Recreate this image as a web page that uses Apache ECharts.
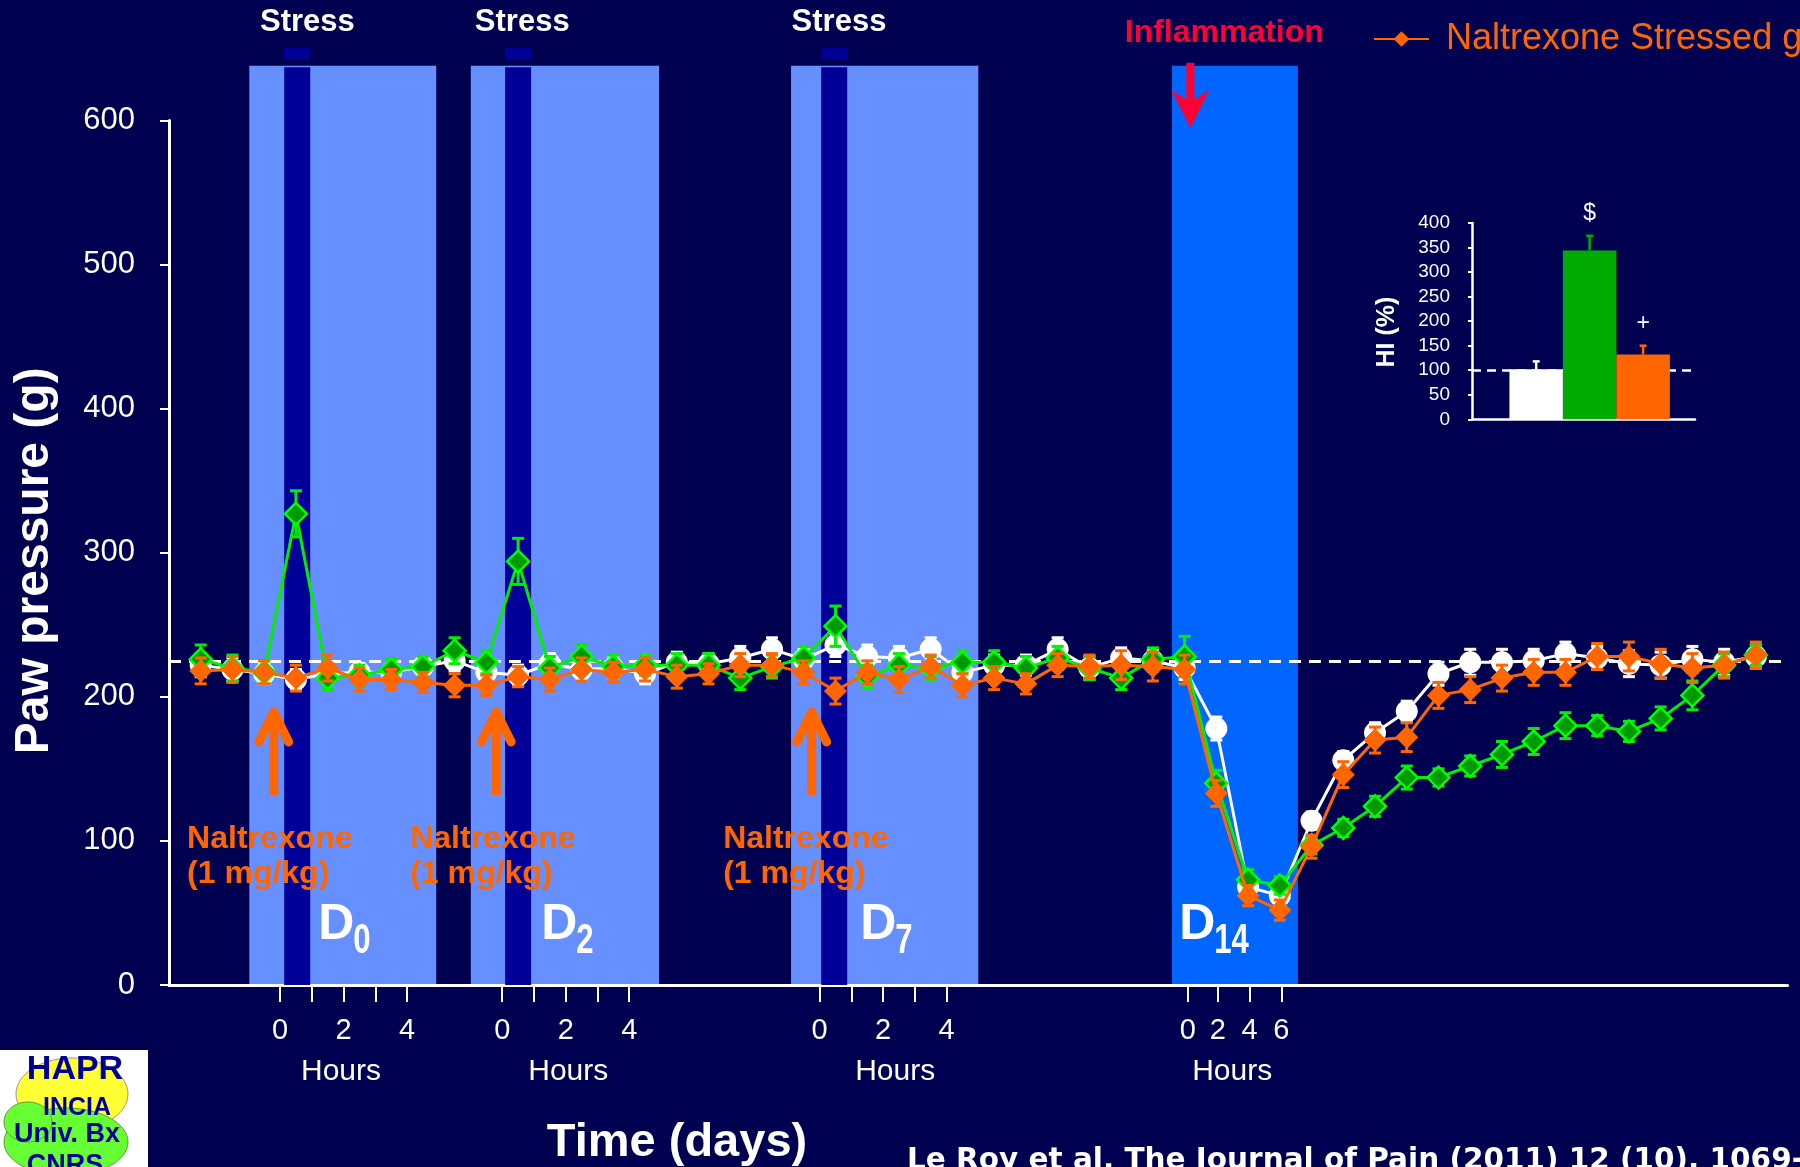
<!DOCTYPE html>
<html>
<head>
<meta charset="utf-8">
<title>Paw pressure over time</title>
<script src="https://cdn.jsdelivr.net/npm/echarts@6.0.0/dist/echarts.min.js"></script>
<style>
  html, body { margin: 0; padding: 0; background: #000050; }
  #chart { width: 1800px; height: 1167px; }
</style>
</head>
<body>
<div id="chart"></div>
<script>
const FONT = '"Liberation Sans", Arial, Helvetica, sans-serif';

// One slot per measurement along the timeline (D0, D2, D7 sessions, D14 and recovery)
const slots = [0,1,2,3,4,5,6,7,8,9,10,11,12,13,14,15,16,17,18,19,20,21,22,23,24,25,26,27,28,29,30,31,32,33,34,35,36,37,38,39,40,41,42,43,44,45,46,47,48,49];

// Paw pressure threshold (g): mean and SEM per slot
const controlMean = [222,219,216,212,216,217,217,221,225,217,215,223,219,220,216,224,223,227,233,226,236,228,227,233,217,222,222,233,220,227,225,220,178,68,62,114,156,175,190,216,224,224,225,230,227,223,222,226,224,228];
const controlSem  = [8,8,7,7,6,6,6,7,7,7,7,7,7,7,7,7,7,8,8,7,8,8,8,8,7,7,7,8,8,7,7,8,8,7,6,6,6,7,7,8,9,9,8,8,8,9,9,9,9,8];
const stressedMean = [226,220,217,327,213,215,219,221,232,224,294,220,228,221,222,222,222,213,221,227,249,214,222,220,224,224,220,227,220,213,226,228,140,73,69,97,109,124,144,144,152,160,169,180,180,176,185,201,222,229];
const stressedSem  = [10,9,8,16,8,7,7,7,9,8,16,8,8,8,7,8,8,8,8,8,14,8,8,8,8,8,8,8,8,8,8,14,9,7,6,6,6,7,8,6,7,9,9,9,7,7,8,10,8,7];
const naltrexoneMean = [218,219,217,213,220,212,212,210,208,208,214,212,219,217,219,214,216,222,222,217,204,217,212,221,208,213,209,222,221,222,221,219,133,62,52,96,146,170,172,201,205,213,217,217,228,228,223,220,222,229];
const naltrexoneSem  = [9,9,8,9,9,8,7,7,8,7,7,8,8,7,8,8,7,8,8,8,9,8,9,8,8,8,7,8,8,10,10,10,9,7,7,8,9,9,10,9,9,9,9,9,9,10,10,10,9,9];
const baselineLevel = 225;

// Hour ticks under each session and their labels
const hourTickSlots  = [2.5,3.5,4.5,5.5,6.5, 9.5,10.5,11.5,12.5,13.5, 19.5,20.5,21.5,22.5,23.5, 31.1,32.05,33.05,34.05];
const hourLabelSlots = [2.5,4.5,6.5, 9.5,11.5,13.5, 19.5,21.5,23.5, 31.1,32.05,33.05,34.05];
const hourLabels     = ['0','2','4', '0','2','4', '0','2','4', '0','2','4','6'];

// Session spans on the timeline
const sessionSpans = [[1.53,7.42],[8.51,14.44],[18.6,24.5]];
const stressSpans  = [[2.63,3.45],[9.59,10.41],[19.55,20.37]];
const inflammationSpan = [[30.6,34.57]];
const dayNames = ['0','2','7','14'];
const dayLabelSlots = [3.7,10.73,20.78,30.83];
const hoursCaptionSlots = [4.42,11.58,21.88,32.5];
const stressLabelSlots = [3.36,10.13,20.11];
const injectionSlots = [2.3,9.31,19.25];
const doseLabelSlots = [-0.43,6.6,16.46];
const inflammationSlot = 31.18;

// Inset: hyperalgesia index (%)
const hiGroups = ['Control', 'Stressed', 'Naltrexone stressed'];
const hiMean = [102, 344, 132];
const hiSem = [16, 30, 18];
const hiMarks = ['', '$', '+'];

const WHITE = '#FFFFFF', GREEN = '#00EE00', GREEN_FILL = '#009900', ORANGE = '#FF6600';
const hiColors = [WHITE, '#00AA00', ORANGE];

function spanRect(color) {
  return (params, api) => {
    const a = api.coord([api.value(0), api.value(3)]);
    const b = api.coord([api.value(1), api.value(2)]);
    return { type: 'rect', silent: true,
      shape: { x: a[0], y: a[1], width: b[0] - a[0], height: b[1] - a[1] },
      style: { fill: color } };
  };
}
function spanSeries(name, spans, y0, y1, color, z) {
  return { type: 'custom', name, coordinateSystem: 'cartesian2d', silent: true, z,
    data: spans.map(s => [s[0], s[1], y0, y1]), renderItem: spanRect(color) };
}
function errorSeries(name, mean, sem, color, z) {
  return { type: 'custom', name, coordinateSystem: 'cartesian2d', silent: true, z,
    data: slots.map((s, i) => [s, mean[i], sem[i]]),
    renderItem: (params, api) => {
      const x = api.value(0), m = api.value(1), e = api.value(2);
      const hi = api.coord([x, m + e]), lo = api.coord([x, m - e]);
      const st = { stroke: color, lineWidth: 3 };
      return { type: 'group', children: [
        { type: 'line', shape: { x1: hi[0], y1: hi[1], x2: lo[0], y2: lo[1] }, style: st },
        { type: 'line', shape: { x1: hi[0] - 6, y1: hi[1], x2: hi[0] + 6, y2: hi[1] }, style: st },
        { type: 'line', shape: { x1: lo[0] - 6, y1: lo[1], x2: lo[0] + 6, y2: lo[1] }, style: st }
      ] };
    } };
}
function textSeries(name, xs, y, texts, style, z) {
  return { type: 'custom', name, coordinateSystem: 'cartesian2d', silent: true, z,
    data: xs.map(x => [x, y]),
    renderItem: (params, api) => {
      const p = api.coord([api.value(0), api.value(1)]);
      return { type: 'text', x: p[0], y: p[1],
        style: Object.assign({ text: texts[params.dataIndex], fontFamily: FONT }, style) };
    } };
}

const chart = echarts.init(document.getElementById('chart'), null, { renderer: 'canvas' });

const option = {
  animation: false,
  backgroundColor: '#000050',
  textStyle: { fontFamily: FONT },
  legend: {
    data: ['Naltrexone Stressed group'],
    left: 1368, top: 16, itemWidth: 55, itemHeight: 16, selectedMode: false,
    textStyle: { color: ORANGE, fontSize: 36, fontFamily: FONT, padding: [0, 0, 0, 12] }
  },
  grid: [
    { left: 169, top: 120.5, right: 12.4, bottom: 182 },
    { left: 1472, top: 223, width: 223, height: 196.3 }
  ],
  xAxis: [
    { type: 'value', gridIndex: 0, min: -1, max: 50,
      axisLine: { show: true, onZero: false, lineStyle: { color: WHITE, width: 3 } },
      axisTick: { show: true, customValues: hourTickSlots, length: 17, lineStyle: { color: WHITE, width: 2 } },
      axisLabel: { show: true, customValues: hourLabelSlots, color: WHITE, fontSize: 29, margin: 31,
        formatter: (v) => hourLabels[hourLabelSlots.indexOf(v)] },
      splitLine: { show: false } },
    { type: 'value', gridIndex: 1, min: -1.2, max: 2.97,
      axisLine: { show: true, onZero: false, lineStyle: { color: WHITE, width: 2.5 } },
      axisTick: { show: false }, axisLabel: { show: false }, splitLine: { show: false } }
  ],
  yAxis: [
    { type: 'value', gridIndex: 0, min: 0, max: 600, interval: 100,
      name: 'Paw pressure (g)', nameLocation: 'middle', nameRotate: 90, nameGap: 110,
      nameTextStyle: { color: WHITE, fontSize: 48, fontWeight: 'bold', fontFamily: FONT, padding: [0, 16, 0, 0] },
      axisLine: { show: true, onZero: false, lineStyle: { color: WHITE, width: 3 } },
      axisTick: { show: true, length: 9, lineStyle: { color: WHITE, width: 2 } },
      axisLabel: { color: WHITE, fontSize: 31, margin: 34 },
      splitLine: { show: false } },
    { type: 'value', gridIndex: 1, min: 0, max: 400, interval: 50,
      name: 'HI (%)', nameLocation: 'middle', nameRotate: 90, nameGap: 72,
      nameTextStyle: { color: WHITE, fontSize: 25, fontWeight: 'bold', fontFamily: FONT, padding: [0, 22, 0, 0] },
      axisLine: { show: true, onZero: false, lineStyle: { color: WHITE, width: 2.5 } },
      axisTick: { show: true, length: 4, lineStyle: { color: WHITE, width: 2 } },
      axisLabel: { color: WHITE, fontSize: 19, margin: 22 },
      splitLine: { show: false } }
  ],
  graphic: [
    { type: 'text', x: 677, y: 1143, silent: true,
      style: { text: 'Time (days)', fill: WHITE, fontSize: 47, fontWeight: 'bold', fontFamily: FONT,
        align: 'center', verticalAlign: 'middle' } },
    { type: 'text', x: 907, y: 1146, silent: true,
      style: { text: 'Le Roy et al. The Journal of Pain (2011) 12 (10), 1069-1079', fill: WHITE,
        fontSize: 29.5, fontWeight: 'bold', fontFamily: '"DejaVu Sans", sans-serif', verticalAlign: 'top' } },
    // lab logo
    { type: 'group', x: 0, y: 1050, silent: true, children: [
      { type: 'rect', shape: { x: 0, y: 0, width: 148, height: 117 }, style: { fill: '#FFFFFF' } },
      { type: 'ellipse', shape: { cx: 72, cy: 44, rx: 56, ry: 36 }, style: { fill: '#FFFF33', stroke: '#999999', lineWidth: 1 } },
      { type: 'ellipse', shape: { cx: 66, cy: 92, rx: 62, ry: 34 }, style: { fill: '#66FF33', stroke: '#669933', lineWidth: 1 } },
      { type: 'ellipse', shape: { cx: 28, cy: 72, rx: 24, ry: 20 }, style: { fill: '#66FF33', stroke: '#669933', lineWidth: 1 } },
      { type: 'text', x: 75, y: 20, style: { text: 'HAPR', fill: '#000099', fontSize: 34, fontWeight: 'bold', fontFamily: FONT, align: 'center', verticalAlign: 'middle' } },
      { type: 'text', x: 77, y: 58, style: { text: 'INCIA', fill: '#000099', fontSize: 25, fontWeight: 'bold', fontFamily: FONT, align: 'center', verticalAlign: 'middle' } },
      { type: 'text', x: 67, y: 85, style: { text: 'Univ. Bx', fill: '#000099', fontSize: 27, fontWeight: 'bold', fontFamily: FONT, align: 'center', verticalAlign: 'middle' } },
      { type: 'text', x: 65, y: 116, style: { text: 'CNRS', fill: '#000099', fontSize: 27, fontWeight: 'bold', fontFamily: FONT, align: 'center', verticalAlign: 'middle' } }
    ] }
  ],
  series: [
    spanSeries('sessions', sessionSpans, 0, 638, '#668FFF', 0),
    spanSeries('inflammation', inflammationSpan, 0, 638, '#0066FF', 0),
    spanSeries('stress', stressSpans, 0, 637, '#000099', 1),
    spanSeries('stress marker', stressSpans, 642.7, 650.3, '#000099', 1),

    // red arrow: inflammatory injection on D14
    { type: 'custom', name: 'inflammation arrow', coordinateSystem: 'cartesian2d', silent: true, z: 9,
      data: [[inflammationSlot, 640, 594.8]],
      renderItem: (params, api) => {
        const top = api.coord([api.value(0), api.value(1)]);
        const tip = api.coord([api.value(0), api.value(2)]);
        const x = tip[0];
        return { type: 'group', children: [
          { type: 'rect', shape: { x: x - 4, y: top[1], width: 8, height: tip[1] - top[1] - 24 }, style: { fill: '#FF0033' } },
          { type: 'polygon', shape: { points: [[x - 19, tip[1] - 38], [x, tip[1]], [x + 19, tip[1] - 38], [x, tip[1] - 26]] }, style: { fill: '#FF0033' } }
        ] };
      } },

    // orange arrows: naltrexone injections
    { type: 'custom', name: 'injections', coordinateSystem: 'cartesian2d', silent: true, z: 9,
      data: injectionSlots.map(x => [x, 131.9, 192.3]),
      renderItem: (params, api) => {
        const base = api.coord([api.value(0), api.value(1)]);
        const tip = api.coord([api.value(0), api.value(2)]);
        const x = tip[0], y = tip[1] + 4;
        return { type: 'group', children: [
          { type: 'line', shape: { x1: x, y1: base[1], x2: x, y2: y + 2 }, style: { stroke: ORANGE, lineWidth: 9 } },
          { type: 'polyline', shape: { points: [[x - 15, y + 30], [x, y], [x + 15, y + 30]] },
            style: { stroke: ORANGE, lineWidth: 9, lineCap: 'round', lineJoin: 'round', fill: null } }
        ] };
      } },

    textSeries('stress labels', stressLabelSlots, 668, ['Stress', 'Stress', 'Stress'],
      { fill: WHITE, fontSize: 31, fontWeight: 'bold', align: 'center', verticalAlign: 'middle' }, 10),
    textSeries('inflammation label', [32.25], 660.5, ['Inflammation'],
      { fill: '#FF0033', fontSize: 32, fontWeight: 'bold', align: 'center', verticalAlign: 'middle' }, 10),
    textSeries('dose labels', doseLabelSlots, 89.2, ['Naltrexone\n(1 mg/kg)', 'Naltrexone\n(1 mg/kg)', 'Naltrexone\n(1 mg/kg)'],
      { fill: ORANGE, fontSize: 32, fontWeight: 'bold', lineHeight: 35, align: 'left', verticalAlign: 'middle' }, 10),
    textSeries('hours captions', hoursCaptionSlots, -60, ['Hours', 'Hours', 'Hours', 'Hours'],
      { fill: WHITE, fontSize: 30, align: 'center', verticalAlign: 'middle' }, 10),

    // day labels D0, D2, D7, D14 with subscript
    { type: 'custom', name: 'day labels', coordinateSystem: 'cartesian2d', silent: true, z: 10,
      data: dayLabelSlots.map(x => [x, 41.6]),
      renderItem: (params, api) => {
        const p = api.coord([api.value(0), api.value(1)]);
        return { type: 'group', children: [
          { type: 'text', x: p[0], y: p[1], style: { text: 'D', fill: WHITE, fontSize: 50, fontWeight: 'bold', fontFamily: FONT, align: 'left', verticalAlign: 'middle' } },
          { type: 'text', x: p[0] + 35, y: p[1] + 16, scaleX: 0.74, originX: 0, originY: 0,
            style: { text: dayNames[params.dataIndex], fill: WHITE, fontSize: 42, fontWeight: 'bold', fontFamily: FONT, align: 'left', verticalAlign: 'middle' } }
        ] };
      } },

    errorSeries('control sem', controlMean, controlSem, WHITE, 3),
    { type: 'line', name: 'Control group', z: 4, data: slots.map((s, i) => [s, controlMean[i]]),
      symbol: 'circle', symbolSize: 22, showAllSymbol: true,
      itemStyle: { color: WHITE }, lineStyle: { color: WHITE, width: 3 },
      markLine: { silent: true, symbol: 'none', label: { show: false },
        lineStyle: { color: WHITE, type: [12, 8], width: 3 }, data: [{ yAxis: baselineLevel }] } },
    errorSeries('stressed sem', stressedMean, stressedSem, GREEN, 5),
    { type: 'line', name: 'Stressed group', z: 6, data: slots.map((s, i) => [s, stressedMean[i]]),
      symbol: 'diamond', symbolSize: 22, showAllSymbol: true,
      itemStyle: { color: GREEN_FILL, borderColor: '#00FF00', borderWidth: 2.5 }, lineStyle: { color: GREEN, width: 3 } },
    errorSeries('naltrexone sem', naltrexoneMean, naltrexoneSem, ORANGE, 7),
    { type: 'line', name: 'Naltrexone Stressed group', z: 8, data: slots.map((s, i) => [s, naltrexoneMean[i]]),
      symbol: 'diamond', symbolSize: 22, showAllSymbol: true,
      itemStyle: { color: ORANGE, borderColor: ORANGE, borderWidth: 1 }, lineStyle: { color: ORANGE, width: 3 } },

    // inset bars
    { type: 'bar', name: 'HI', xAxisIndex: 1, yAxisIndex: 1, barWidth: 53.5, z: 10,
      data: hiMean.map((v, i) => ({ name: hiGroups[i], value: [i, v], itemStyle: { color: hiColors[i] } })),
      markLine: { silent: true, symbol: 'none', label: { show: false },
        lineStyle: { color: WHITE, type: [9, 6], width: 2.5 }, data: [{ yAxis: 100 }] } },
    { type: 'custom', name: 'HI sem', xAxisIndex: 1, yAxisIndex: 1, coordinateSystem: 'cartesian2d', silent: true, z: 11,
      data: hiMean.map((v, i) => [i, v, hiSem[i]]),
      renderItem: (params, api) => {
        const i = params.dataIndex;
        const b = api.coord([api.value(0), api.value(1)]);
        const t = api.coord([api.value(0), api.value(1) + api.value(2)]);
        const st = { stroke: hiColors[i], lineWidth: 2.5 };
        const kids = [
          { type: 'line', shape: { x1: b[0], y1: b[1], x2: t[0], y2: t[1] }, style: st },
          { type: 'line', shape: { x1: t[0] - 3.5, y1: t[1], x2: t[0] + 3.5, y2: t[1] }, style: st }
        ];
        if (hiMarks[i]) {
          kids.push({ type: 'text', x: t[0], y: t[1] - 22,
            style: { text: hiMarks[i], fill: WHITE, fontSize: 23, fontFamily: FONT, align: 'center', verticalAlign: 'middle' } });
        }
        return { type: 'group', children: kids };
      } }
  ]
};

chart.setOption(option);
</script>
</body>
</html>
